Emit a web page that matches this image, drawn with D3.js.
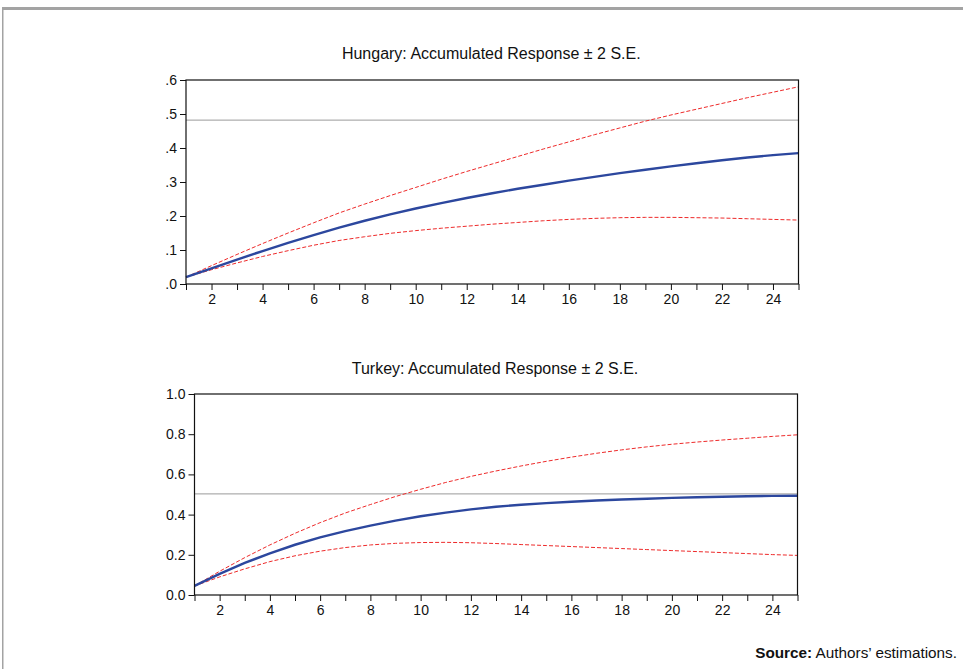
<!DOCTYPE html>
<html>
<head>
<meta http-equiv="Content-type" content="text/html; charset=utf-8">
<title>Accumulated Response</title>
<script src="https://cdn.jsdelivr.net/npm/d3@7"></script>
<style>
  body { margin:0; background:#fff; }
  text { font-family: "Liberation Sans", Arial, sans-serif; fill:#111; }
</style>
<script type="text/javascript">

  // periods 1..25
  var periods = d3.range(1, 26);

  // Hungary
  var huResp  = [0.020,0.046,0.072,0.097,0.121,0.144,0.166,0.186,0.205,0.222,0.238,0.253,0.267,0.280,0.292,0.304,0.315,0.326,0.336,0.346,0.355,0.364,0.372,0.379,0.385];
  var huUpper = [0.020,0.054,0.087,0.119,0.150,0.180,0.209,0.235,0.260,0.284,0.308,0.331,0.353,0.375,0.397,0.418,0.439,0.459,0.479,0.497,0.514,0.531,0.548,0.564,0.580];
  var huLower = [0.020,0.042,0.062,0.081,0.098,0.114,0.128,0.139,0.149,0.157,0.164,0.170,0.176,0.181,0.186,0.190,0.193,0.195,0.196,0.196,0.195,0.194,0.192,0.190,0.188];
  var huLevel = 0.482;
  var huTicks = [0, 0.1, 0.2, 0.3, 0.4, 0.5, 0.6];
  var huTickLabels = [".0", ".1", ".2", ".3", ".4", ".5", ".6"];

  // Turkey
  var trResp  = [0.045,0.105,0.160,0.207,0.250,0.287,0.318,0.345,0.370,0.392,0.410,0.426,0.439,0.449,0.457,0.464,0.470,0.475,0.479,0.483,0.486,0.489,0.491,0.493,0.494];
  var trUpper = [0.045,0.118,0.186,0.249,0.307,0.360,0.408,0.450,0.490,0.526,0.560,0.590,0.617,0.642,0.665,0.686,0.705,0.722,0.737,0.750,0.761,0.771,0.780,0.789,0.797];
  var trLower = [0.045,0.090,0.130,0.166,0.195,0.218,0.236,0.249,0.257,0.261,0.262,0.260,0.256,0.251,0.246,0.241,0.236,0.231,0.226,0.221,0.216,0.211,0.206,0.201,0.197];
  var trLevel = 0.503;
  var trTicks = [0, 0.2, 0.4, 0.6, 0.8, 1.0];
  var trTickLabels = ["0.0", "0.2", "0.4", "0.6", "0.8", "1.0"];

  var xLabels = [2, 4, 6, 8, 10, 12, 14, 16, 18, 20, 22, 24];

  var W = 963, H = 669;
  var svg;

  function init() {
    svg = d3.select("body").append("svg").attr("width", W).attr("height", H);

    // outer frame, grey
    svg.append("rect").attr("x", 2).attr("y", 7).attr("width", W).attr("height", 3).attr("fill", "#a3a3a3");
    svg.append("rect").attr("x", 2).attr("y", 7).attr("width", 1.5).attr("height", H).attr("fill", "#a3a3a3");

    drawPanel({
      title: "Hungary: Accumulated Response \u00b1 2 S.E.", titleY: 59,
      left: 186, right: 798.5, top: 80, bottom: 284,
      ymax: 0.6, ticks: huTicks, labels: huTickLabels,
      resp: huResp, upper: huUpper, lower: huLower, level: huLevel
    });
    drawPanel({
      title: "Turkey: Accumulated Response \u00b1 2 S.E.", titleY: 374,
      left: 194.5, right: 797.5, top: 394, bottom: 595,
      ymax: 1.0, ticks: trTicks, labels: trTickLabels,
      resp: trResp, upper: trUpper, lower: trLower, level: trLevel
    });

    var src = svg.append("text").attr("x", 957).attr("y", 658).attr("text-anchor", "end").style("font-size", "15.3px");
    src.append("tspan").attr("font-weight", "bold").text("Source:");
    src.append("tspan").text(" Authors\u2019 estimations.");
  }

  function drawPanel(p) {
    var x = d3.scaleLinear().domain([1, 25]).range([p.left, p.right]);
    var y = d3.scaleLinear().domain([0, p.ymax]).range([p.bottom, p.top]);
    var g = svg.append("g");

    g.append("text").attr("x", (p.left + p.right) / 2 - 1).attr("y", p.titleY)
      .attr("text-anchor", "middle").style("font-size", "16px").text(p.title);

    // horizontal reference
    g.append("line").attr("x1", p.left).attr("x2", p.right)
      .attr("y1", y(p.level)).attr("y2", y(p.level))
      .attr("stroke", "#9a9a9a").attr("stroke-width", 1);

    var line = d3.line().x(function(d, i) { return x(periods[i]); }).y(function(d) { return y(d); });

    [p.upper, p.lower].forEach(function(s) {
      g.append("path").attr("d", line(s)).attr("fill", "none")
        .attr("stroke", "#ee2a2a").attr("stroke-width", 1).attr("stroke-dasharray", "4,2");
    });
    g.append("path").attr("d", line(p.resp)).attr("fill", "none")
      .attr("stroke", "#2c479e").attr("stroke-width", 2.4);

    // axes
    var xa = d3.axisBottom(x).tickValues(periods).tickSize(6).tickPadding(4)
      .tickFormat(function(d) { return xLabels.indexOf(d) >= 0 ? d : ""; });
    var gx = g.append("g").attr("transform", "translate(0," + p.bottom + ")").call(xa);

    var ya = d3.axisLeft(y).tickValues(p.ticks).tickSize(6).tickPadding(3)
      .tickFormat(function(d, i) { return p.labels[i]; });
    var gy = g.append("g").attr("transform", "translate(" + p.left + ",0)").call(ya);

    [gx, gy].forEach(function(a) {
      a.select(".domain").remove();
      a.selectAll("line").attr("stroke", "#111");
      a.selectAll("text").style("font-size", "14px").attr("fill", "#111")
        .style("font-family", "'Liberation Sans', Arial, sans-serif");
    });

    g.append("rect").attr("x", p.left).attr("y", p.top)
      .attr("width", p.right - p.left).attr("height", p.bottom - p.top)
      .attr("fill", "none").attr("stroke", "#111").attr("stroke-width", 1.2);
  }

</script>
</head>
<body onload="javascript:init();">
</body>
</html>
